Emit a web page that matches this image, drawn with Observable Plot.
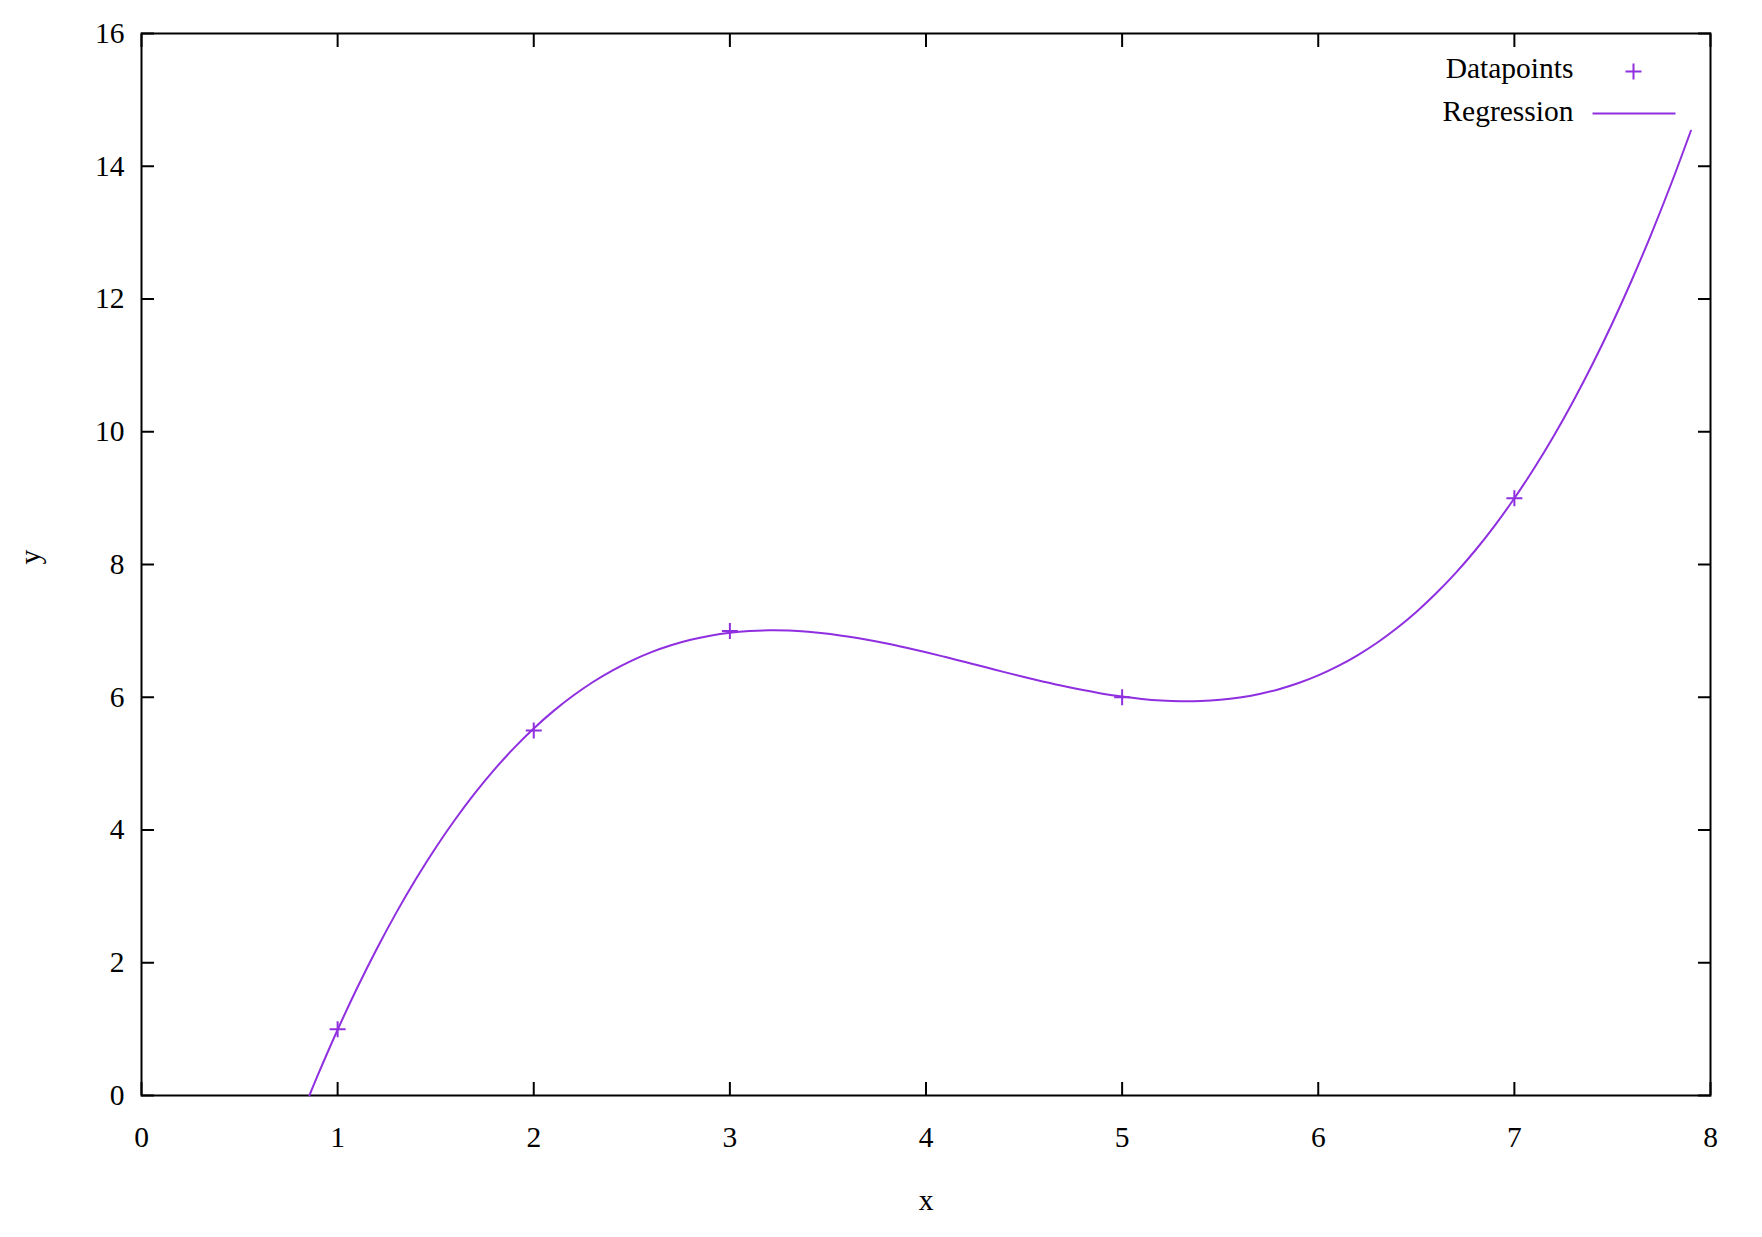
<!DOCTYPE html>
<html>
<head>
<meta charset="utf-8">
<script src="https://cdn.jsdelivr.net/npm/d3@7"></script>
<script src="https://cdn.jsdelivr.net/npm/@observablehq/plot@0.6"></script>
<style>
  html, body { margin: 0; padding: 0; background: #fff; }
  #chart svg { display: block; }
</style>
</head>
<body>
<div id="chart"></div>
<script>
// Data points
const pointX = [1, 2, 3, 5, 7];
const pointY = [1, 5.5, 7, 6, 9];

// Regression curve
const curveX = [0.856, 0.9, 1.0, 1.1, 1.2, 1.3, 1.4, 1.5, 1.6, 1.7, 1.8, 1.9, 2.0,
  2.1, 2.2, 2.3, 2.4, 2.5, 2.6, 2.7, 2.8, 2.9, 3.0, 3.1, 3.2, 3.3, 3.4, 3.5, 3.6,
  3.7, 3.8, 3.9, 4.0, 4.1, 4.2, 4.3, 4.4, 4.5, 4.6, 4.7, 4.8, 4.9, 5.0, 5.1, 5.2,
  5.3, 5.4, 5.5, 5.6, 5.7, 5.8, 5.9, 6.0, 6.1, 6.2, 6.3, 6.4, 6.5, 6.6, 6.7, 6.8,
  6.9, 7.0, 7.1, 7.2, 7.3, 7.4, 7.5, 7.6, 7.7, 7.8, 7.9];
const curveY = [0, 0.314, 0.991, 1.623, 2.212, 2.759, 3.265, 3.733, 4.162, 4.555, 4.913, 5.238, 5.530,
  5.791, 6.022, 6.226, 6.402, 6.553, 6.680, 6.783, 6.866, 6.928, 6.972, 6.998, 7.008, 7.004, 6.986, 6.957, 6.916,
  6.867, 6.810, 6.746, 6.678, 6.605, 6.530, 6.455, 6.379, 6.305, 6.235, 6.168, 6.108, 6.054, 6.010, 5.975, 5.951,
  5.940, 5.943, 5.961, 5.996, 6.049, 6.121, 6.214, 6.329, 6.468, 6.632, 6.821, 7.039, 7.285, 7.562, 7.870, 8.211,
  8.587, 8.998, 9.447, 9.934, 10.461, 11.029, 11.639, 12.294, 12.994, 13.740, 14.535];

// Axis ticks
const xTicks = [0, 1, 2, 3, 4, 5, 6, 7, 8];
const yTicks = [0, 2, 4, 6, 8, 10, 12, 14, 16];

// Legend labels and axis titles
const legendLabels = ["Datapoints", "Regression"];
const xLabel = "x";
const yLabel = "y";

const purple = "#8f2fe0";

const points = pointX.map((x, i) => ({x, y: pointY[i]}));
const curve = curveX.map((x, i) => ({x, y: curveY[i]}));

const plusSymbol = {
  draw(context, size) {
    const r = Math.sqrt(size / Math.PI);
    context.moveTo(-r, 0); context.lineTo(r, 0);
    context.moveTo(0, -r); context.lineTo(0, r);
  }
};
const hlineSymbol = {
  draw(context) {
    context.moveTo(-41.5, 0); context.lineTo(41.5, 0);
  }
};

const fmt = d => String(d);
const tickOpts = {tickSize: -13, fill: "none", stroke: "black", strokeWidth: 2, label: null};

const chart = Plot.plot({
  width: 1762,
  height: 1237,
  marginLeft: 141,
  marginRight: 52,
  marginTop: 33,
  marginBottom: 142,
  style: {fontFamily: "'Liberation Serif', 'Times New Roman', serif", fontSize: "29.5px", background: "white", color: "black"},
  x: {domain: [0, 8]},
  y: {domain: [0, 16]},
  marks: [
    Plot.axisX(xTicks, {anchor: "bottom", tickSize: 0, tickPadding: 31, tickFormat: fmt, label: null, fill: "black"}),
    Plot.axisX(xTicks, {anchor: "bottom", ...tickOpts}),
    Plot.axisX(xTicks, {anchor: "top", ...tickOpts}),
    Plot.axisY(yTicks, {anchor: "left", tickSize: 0, tickPadding: 17, tickFormat: fmt, label: null, fill: "black"}),
    Plot.axisY(yTicks, {anchor: "left", ...tickOpts}),
    Plot.axisY(yTicks, {anchor: "right", ...tickOpts}),
    Plot.frame({stroke: "black", strokeWidth: 2}),
    Plot.line(curve, {x: "x", y: "y", stroke: purple, strokeWidth: 2, curve: "catmull-rom"}),
    Plot.dot(points, {x: "x", y: "y", symbol: plusSymbol, r: 8, stroke: purple, strokeWidth: 2}),
    // legend
    Plot.text([legendLabels[0]], {text: d => d, frameAnchor: "top-right", dx: -137, dy: 35, textAnchor: "end", lineAnchor: "middle", fill: "black"}),
    Plot.text([legendLabels[1]], {text: d => d, frameAnchor: "top-right", dx: -137, dy: 78, textAnchor: "end", lineAnchor: "middle", fill: "black"}),
    Plot.dot([0], {frameAnchor: "top-right", dx: -77, dy: 38, symbol: plusSymbol, r: 8, stroke: purple, strokeWidth: 2}),
    Plot.dot([0], {frameAnchor: "top-right", dx: -76.5, dy: 80, symbol: hlineSymbol, r: 8, stroke: purple, strokeWidth: 2}),
    // axis titles
    Plot.text([xLabel], {text: d => d, frameAnchor: "bottom", dy: 105, lineAnchor: "middle", fill: "black"}),
    Plot.text([yLabel], {text: d => d, frameAnchor: "left", dx: -111, rotate: -90, lineAnchor: "middle", fill: "black"})
  ]
});

document.getElementById("chart").appendChild(chart);
</script>
</body>
</html>
